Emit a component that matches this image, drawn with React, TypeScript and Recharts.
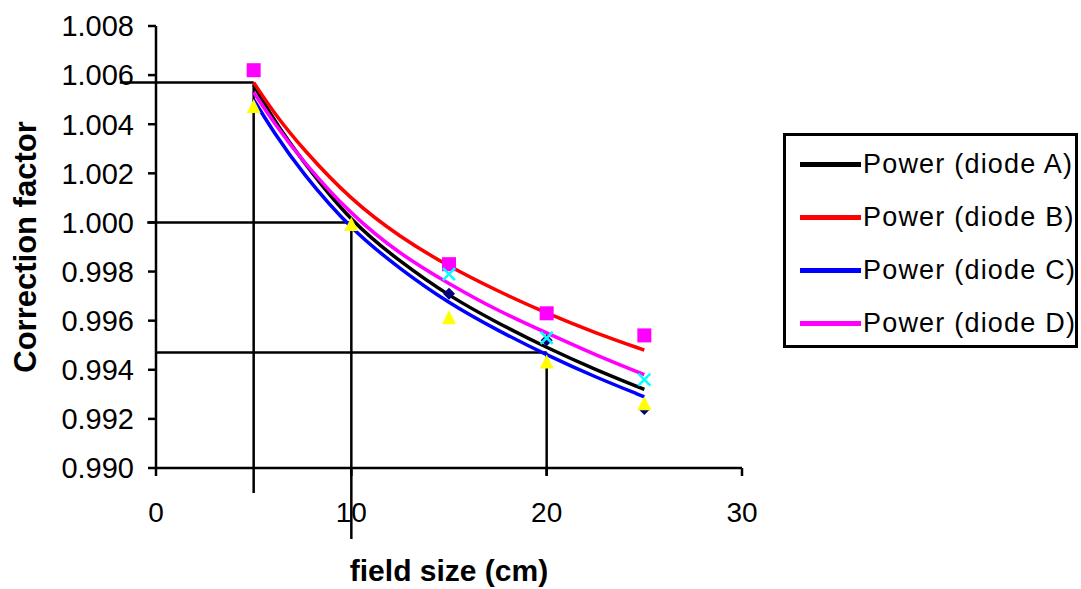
import React from "react";
import { ComposedChart, Line, Scatter, XAxis, YAxis, ReferenceLine } from "recharts";

// power trendlines
const fitX = [5, 6, 7.5, 10, 12.5, 15, 17.5, 20, 22.5, 25];
const fitA = [1.0056, 1.0042, 1.0025, 1.0, 0.9984, 0.9970, 0.9959, 0.9949, 0.9940, 0.9932];
const fitB = [1.0057, 1.0045, 1.0030, 1.0009, 0.9994, 0.9982, 0.9972, 0.9963, 0.9955, 0.9948];
const fitC = [1.0050, 1.0037, 1.0020, 0.9997, 0.9981, 0.9967, 0.9956, 0.9946, 0.9937, 0.9929];
const fitD = [1.0053, 1.0041, 1.0025, 1.0003, 0.9987, 0.9975, 0.9964, 0.9955, 0.9946, 0.9938];

// measured points (null = not visible)
const fieldSizes = [5, 10, 15, 20, 25];
const measA = [null, null, 0.9971, 0.9952, 0.9924];
const measB = [1.0062, null, 0.9983, 0.9963, 0.9954];
const measC = [1.0047, 0.9999, 0.9961, 0.9943, 0.9926];
const measD = [null, null, 0.9979, 0.9953, 0.9936];

const xTicks = [0, 10, 20, 30];
const yTicks = [0.99, 0.992, 0.994, 0.996, 0.998, 1.0, 1.002, 1.004, 1.006, 1.008];

// drop lines from the black fit
const refX = [5, 10, 20];
const refY = [1.0057, 1.0, 0.9947];
const refLeft = [-1.85, -0.45, 0];
const refBottom = [0.98898, 0.98711, 0.9897];

const FONT = "'Liberation Sans', Arial, sans-serif";

const fit = (ys: number[]) => fitX.map((x, i) => ({ x, y: ys[i] }));
const meas = (ys: (number | null)[]) =>
  fieldSizes.map((x, i) => ({ x, y: ys[i] })).filter((d) => d.y !== null);

const Diamond = (p: any) => (
  <polygon
    points={`${p.cx},${p.cy - 6} ${p.cx + 6},${p.cy} ${p.cx},${p.cy + 6} ${p.cx - 6},${p.cy}`}
    fill="#000080"
  />
);
const Square = (p: any) =>
  p.index === 4 ? (
    <circle cx={p.cx} cy={p.cy} r={8.5} fill="#FF00FF" />
  ) : (
    <rect x={p.cx - 7} y={p.cy - 7} width={14} height={14} fill="#FF00FF" />
  );
const Triangle = (p: any) => (
  <polygon
    points={`${p.cx},${p.cy - 8} ${p.cx + 7},${p.cy + 6} ${p.cx - 7},${p.cy + 6}`}
    fill="#FFFF00"
  />
);
const Cross = (p: any) => (
  <g stroke="#00FFFF" strokeWidth={2.5}>
    <line x1={p.cx - 6} y1={p.cy - 6} x2={p.cx + 6} y2={p.cy + 6} />
    <line x1={p.cx - 6} y1={p.cy + 6} x2={p.cx + 6} y2={p.cy - 6} />
  </g>
);

const legendItems = [
  { name: "Power (diode A)", color: "#000000" },
  { name: "Power (diode B)", color: "#FF0000" },
  { name: "Power (diode C)", color: "#0000FF" },
  { name: "Power (diode D)", color: "#FF00FF" },
];

export default function App() {
  return (
    <div style={{ position: "absolute", left: 0, top: 0, width: 1081, height: 589, background: "#fff" }}>
      <ComposedChart width={1081} height={589} margin={{ top: 26, right: 339, bottom: 0, left: 0 }}>
        <XAxis
          type="number"
          dataKey="x"
          domain={[0, 30]}
          ticks={xTicks}
          height={121}
          tickSize={8}
          tickMargin={26}
          stroke="#000"
          strokeWidth={2.5}
          tick={{ fill: "#000", fontSize: 28, fontFamily: FONT }}
          label={{
            value: "field size (cm)",
            position: "insideBottom",
            offset: 8,
            fill: "#000",
            fontSize: 30,
            fontWeight: "bold",
            fontFamily: FONT,
          }}
        />
        <YAxis
          type="number"
          dataKey="y"
          domain={[0.99, 1.008]}
          ticks={yTicks}
          width={156}
          tickSize={8}
          tickMargin={14}
          stroke="#000"
          strokeWidth={2.5}
          tickFormatter={(v: number) => v.toFixed(3)}
          tick={{ fill: "#000", fontSize: 29, fontFamily: FONT }}
          label={{
            content: (props: any) => {
              const vb = props.viewBox;
              const cy = vb.y + vb.height / 2;
              return (
                <text
                  x={25}
                  y={cy}
                  transform={`rotate(-90 25 ${cy})`}
                  textAnchor="middle"
                  dominantBaseline="central"
                  fill="#000"
                  fontSize={31}
                  fontWeight="bold"
                  fontFamily={FONT}
                >
                  Correction factor
                </text>
              );
            },
          }}
        />
        {refX.map((x, i) => (
          <ReferenceLine
            key={`v${i}`}
            segment={[{ x, y: refY[i] }, { x, y: refBottom[i] }]}
            stroke="#000"
            strokeWidth={2.5}
            ifOverflow="visible"
          />
        ))}
        {refX.map((x, i) => (
          <ReferenceLine
            key={`h${i}`}
            segment={[{ x: refLeft[i], y: refY[i] }, { x, y: refY[i] }]}
            stroke="#000"
            strokeWidth={2.5}
            ifOverflow="visible"
          />
        ))}
        <Scatter data={meas(measA)} dataKey="y" shape={Diamond} isAnimationActive={false} />
        <Scatter data={meas(measB)} dataKey="y" shape={Square} isAnimationActive={false} />
        <Scatter data={meas(measC)} dataKey="y" shape={Triangle} isAnimationActive={false} />
        <Scatter data={meas(measD)} dataKey="y" shape={Cross} isAnimationActive={false} />
        <Line data={fit(fitA)} dataKey="y" type="basis" stroke="#000000" strokeWidth={3.5} dot={false} isAnimationActive={false} />
        <Line data={fit(fitB)} dataKey="y" type="basis" stroke="#FF0000" strokeWidth={3.5} dot={false} isAnimationActive={false} />
        <Line data={fit(fitC)} dataKey="y" type="basis" stroke="#0000FF" strokeWidth={3.5} dot={false} isAnimationActive={false} />
        <Line data={fit(fitD)} dataKey="y" type="basis" stroke="#FF00FF" strokeWidth={3.5} dot={false} isAnimationActive={false} />
      </ComposedChart>
      <div
        style={{
          position: "absolute",
          left: 783,
          top: 133,
          width: 289,
          height: 209,
          border: "3px solid #000",
          fontFamily: FONT,
          fontSize: 27,
        }}
      >
        {legendItems.map((it, i) => (
          <div
            key={it.name}
            style={{ position: "absolute", left: 14, top: 12 + i * 53, height: 32, display: "flex", alignItems: "center", whiteSpace: "nowrap" }}
          >
            <span style={{ display: "inline-block", width: 61, height: 5, background: it.color, marginRight: 2 }} />
            <span style={{ letterSpacing: 1.2 }}>{it.name}</span>
          </div>
        ))}
      </div>
    </div>
  );
}
